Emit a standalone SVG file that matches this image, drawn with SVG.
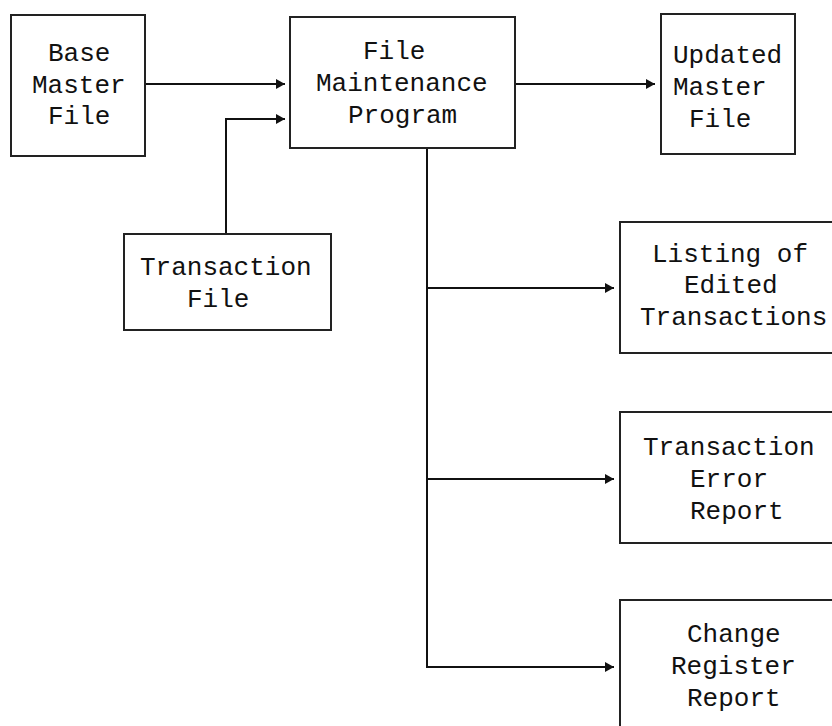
<svg xmlns="http://www.w3.org/2000/svg" width="832" height="726" viewBox="0 0 832 726">
  <style>
    .box { fill: #ffffff; stroke: #222222; stroke-width: 2; }
    .lbl { font-family: "Liberation Mono", "Courier New", monospace; font-size: 26px; fill: #111111; }
    .wire { fill: none; stroke: #111111; stroke-width: 2; }
  </style>
  <defs>
    <marker id="arrow" markerUnits="userSpaceOnUse" markerWidth="10" markerHeight="11" refX="9" refY="5" orient="auto">
      <path d="M0,0 L9,5 L0,10 z" fill="#111111"/>
    </marker>
  </defs>
  <rect width="832" height="726" fill="#ffffff"/>

  <g id="connectors">
    <path class="wire" d="M145,84 H285" marker-end="url(#arrow)"/>
    <path class="wire" d="M226,234 V119 H285" marker-end="url(#arrow)"/>
    <path class="wire" d="M515,84 H655" marker-end="url(#arrow)"/>
    <path class="wire" d="M427,148 V667 H614" marker-end="url(#arrow)"/>
    <path class="wire" d="M427,288 H614" marker-end="url(#arrow)"/>
    <path class="wire" d="M427,479 H614" marker-end="url(#arrow)"/>
  </g>

  <g id="base-master-file">
    <rect class="box" x="11" y="15" width="134" height="141"/>
    <text class="lbl" x="48" y="61">Base</text>
    <text class="lbl" x="32" y="93">Master</text>
    <text class="lbl" x="48" y="124">File</text>
  </g>

  <g id="file-maintenance-program">
    <rect class="box" x="290" y="17" width="225" height="131"/>
    <text class="lbl" x="363" y="59">File</text>
    <text class="lbl" x="316" y="91">Maintenance</text>
    <text class="lbl" x="348" y="123">Program</text>
  </g>

  <g id="updated-master-file">
    <rect class="box" x="661" y="14" width="134" height="140"/>
    <text class="lbl" x="673" y="63">Updated</text>
    <text class="lbl" x="673" y="95">Master</text>
    <text class="lbl" x="689" y="127">File</text>
  </g>

  <g id="transaction-file">
    <rect class="box" x="124" y="234" width="207" height="96"/>
    <text class="lbl" x="140" y="275">Transaction</text>
    <text class="lbl" x="187" y="307">File</text>
  </g>

  <g id="listing-of-edited-transactions">
    <rect class="box" x="620" y="222" width="240" height="131"/>
    <text class="lbl" x="652" y="262">Listing of</text>
    <text class="lbl" x="684" y="293">Edited</text>
    <text class="lbl" x="640" y="325">Transactions</text>
  </g>

  <g id="transaction-error-report">
    <rect class="box" x="620" y="412" width="240" height="131"/>
    <text class="lbl" x="643" y="455">Transaction</text>
    <text class="lbl" x="690" y="487">Error</text>
    <text class="lbl" x="690" y="519">Report</text>
  </g>

  <g id="change-register-report">
    <rect class="box" x="620" y="600" width="240" height="140"/>
    <text class="lbl" x="687" y="642">Change</text>
    <text class="lbl" x="671" y="674">Register</text>
    <text class="lbl" x="687" y="706">Report</text>
  </g>
</svg>
